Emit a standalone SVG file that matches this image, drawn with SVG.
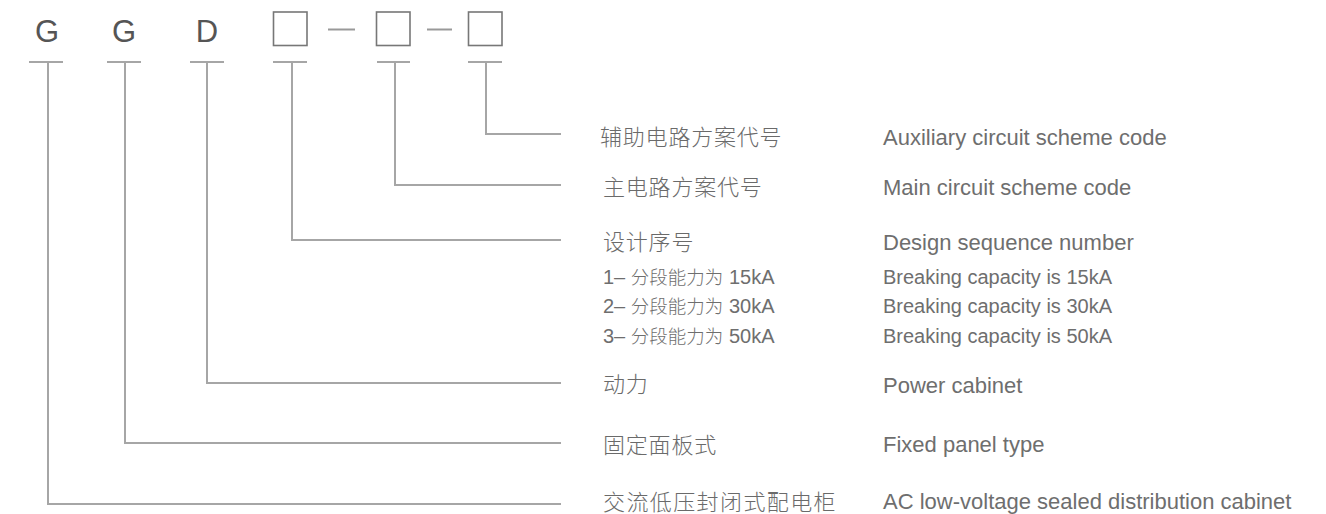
<svg xmlns="http://www.w3.org/2000/svg" width="1326" height="514" viewBox="0 0 1326 514">
<style>
.code{font-family:"Liberation Sans",Arial,sans-serif;font-size:31px;fill:#555;text-anchor:middle}
.box{fill:none;stroke:#777;stroke-width:1.6}
.dash{stroke:#999;stroke-width:2}
.ln{fill:none;stroke:#a6a6a6;stroke-width:2}
.zh{font-family:"Noto Sans CJK SC",sans-serif;font-size:22px;font-weight:300;fill:#6a6a6a;letter-spacing:0.8px}
.en{font-family:"Liberation Sans",Arial,sans-serif;font-size:22px;fill:#6e6e6e}
.sub{font-family:"Liberation Sans","Noto Sans CJK SC",sans-serif;font-size:20px;fill:#6e6e6e}
.subzh{font-family:"Noto Sans CJK SC",sans-serif;font-size:18.5px;font-weight:300}
</style>
<rect width="1326" height="514" fill="#fff"/>
<g id="code">
<text class="code" x="47" y="42">G</text>
<text class="code" x="124" y="42">G</text>
<text class="code" x="207" y="42">D</text>
<rect class="box" x="273.5" y="12" width="33.5" height="33.5"/>
<line class="dash" x1="328" y1="29.5" x2="355" y2="29.5"/>
<rect class="box" x="376.5" y="12" width="33.5" height="33.5"/>
<line class="dash" x1="427" y1="29.5" x2="452" y2="29.5"/>
<rect class="box" x="468.5" y="12" width="33.5" height="33.5"/>
</g>
<g id="connectors">
<path class="ln" d="M29 62H63M48 62V504H561"/>
<path class="ln" d="M107 62H141M125 62V443H561"/>
<path class="ln" d="M190 62H224M207 62V383H561"/>
<path class="ln" d="M273 62H307M292 62V240H561"/>
<path class="ln" d="M377 62H410M395 62V185H561"/>
<path class="ln" d="M468 62H502M486 62V134H561"/>
</g>
<g id="aux">
<text class="zh" x="600" y="145">辅助电路方案代号</text>
<text class="en" x="883" y="145">Auxiliary circuit scheme code</text>
</g>
<g id="main">
<text class="zh" x="603" y="195">主电路方案代号</text>
<text class="en" x="883" y="195">Main circuit scheme code</text>
</g>
<g id="design">
<text class="zh" x="603" y="250">设计序号</text>
<text class="en" x="883" y="250">Design sequence number</text>
<text class="sub" x="603" y="283.5">1– <tspan class="subzh">分段能力为</tspan> 15kA</text>
<text class="sub" x="883" y="283.5">Breaking capacity is 15kA</text>
<text class="sub" x="603" y="313">2– <tspan class="subzh">分段能力为</tspan> 30kA</text>
<text class="sub" x="883" y="313">Breaking capacity is 30kA</text>
<text class="sub" x="603" y="342.5">3– <tspan class="subzh">分段能力为</tspan> 50kA</text>
<text class="sub" x="883" y="342.5">Breaking capacity is 50kA</text>
</g>
<g id="power">
<text class="zh" x="603" y="392">动力</text>
<text class="en" x="883" y="393">Power cabinet</text>
</g>
<g id="fixed">
<text class="zh" x="603" y="453">固定面板式</text>
<text class="en" x="883" y="452">Fixed panel type</text>
</g>
<g id="ac">
<text class="zh" x="603" y="510" style="letter-spacing:1.4px">交流低压封闭式配电柜</text>
<text class="en" x="883" y="509">AC low-voltage sealed distribution cabinet</text>
</g>
</svg>
